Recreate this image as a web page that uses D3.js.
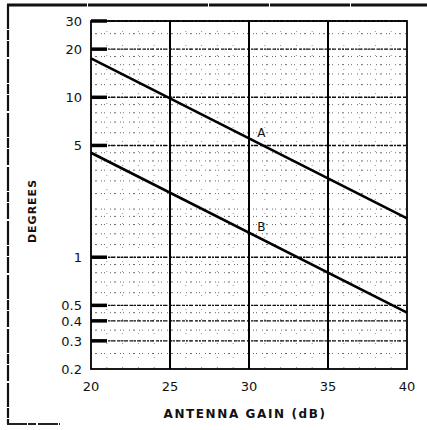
<!DOCTYPE html>
<html>
<head>
<meta charset="utf-8">
<script src="https://cdn.jsdelivr.net/npm/d3@7"></script>
<style>
  html, body { margin: 0; padding: 0; background: #fff; }
  svg { display: block; }
  text { font-family: "DejaVu Sans", "Liberation Sans", sans-serif; fill: #111; }
</style>
</head>
<body>
<svg id="chart" width="427" height="430"></svg>
<script>
// Antenna gain (dB) on the x axis
const gainDomain = [20, 40];
const gainTicks = [20, 25, 30, 35, 40];
const gainGridLines = [25, 30, 35];

// Beamwidth in degrees on a log y axis
const degreeDomain = [0.2, 30];
const degreeTicks = [0.2, 0.3, 0.4, 0.5, 1, 5, 10, 20, 30];
const degreeTickLabels = ["0.2", "0.3", "0.4", "0.5", "1", "5", "10", "20", "30"];
const degreeMajorLines = [0.3, 0.4, 0.5, 1, 5, 10, 20, 30];

// Two curves, straight on log paper
const curveGain = [20, 40];
const curveA = [17.5, 1.75];
const curveB = [4.5, 0.45];
const curveNames = ["A", "B"];
const curveLabelGain = [30.4, 30.4];

const svg = d3.select("#chart");
const margin = { left: 91, right: 20, top: 21, bottom: 61 };
const W = 427, H = 430;

const x = d3.scaleLinear().domain(gainDomain).range([margin.left, W - margin.right]);
const y = d3.scaleLog().domain(degreeDomain).range([H - margin.bottom, margin.top]);

// page frame
svg.append("line").attr("x1", 8).attr("x2", 8).attr("y1", 5).attr("y2", 424)
  .attr("stroke", "#111").attr("stroke-width", 2.2).attr("stroke-dasharray", "24,1,10,1,16,2");
svg.append("line").attr("x1", 7).attr("x2", 427).attr("y1", 5).attr("y2", 5)
  .attr("stroke", "#111").attr("stroke-width", 3).attr("stroke-dasharray", "80,1,120,1,60,1");
svg.append("line").attr("x1", 7).attr("x2", 60).attr("y1", 424).attr("y2", 424)
  .attr("stroke", "#222").attr("stroke-width", 2).attr("stroke-dasharray", "20,1,8,2");

const plot = svg.append("g");

// minor horizontal rulings
const minorMult = [1, 1.2, 1.4, 1.6, 1.8, 2, 2.5, 3, 3.5, 4, 4.5, 5, 6, 7, 8, 9];
const minorVals = [];
[0.1, 1, 10].forEach(d => minorMult.forEach(m => {
  const v = +(m * d).toFixed(3);
  if (v > degreeDomain[0] && v < degreeDomain[1]) minorVals.push(v);
}));
plot.selectAll("line.hminor").data(minorVals).join("line")
  .attr("class", "hminor")
  .attr("x1", x(gainDomain[0])).attr("x2", x(gainDomain[1]))
  .attr("y1", d => y(d)).attr("y2", d => y(d))
  .attr("stroke", "#444").attr("stroke-width", 0.8)
  .attr("stroke-dasharray", "1,3,2,4,1,2,1,5");

// minor vertical rulings every 1 dB
const minorGain = d3.range(21, 40).filter(g => g % 5 !== 0);
plot.selectAll("line.vminor").data(minorGain).join("line")
  .attr("class", "vminor")
  .attr("x1", d => x(d)).attr("x2", d => x(d))
  .attr("y1", y(degreeDomain[1])).attr("y2", y(degreeDomain[0]))
  .attr("stroke", "#666").attr("stroke-width", 0.7)
  .attr("stroke-dasharray", "1,9,1,13");

// major horizontal rulings
plot.selectAll("line.hmajor").data(degreeMajorLines).join("line")
  .attr("class", "hmajor")
  .attr("x1", x(gainDomain[0])).attr("x2", x(gainDomain[1]))
  .attr("y1", d => y(d)).attr("y2", d => y(d))
  .attr("stroke", "#111").attr("stroke-width", 1.4)
  .attr("stroke-dasharray", "3,1,2,1,4,2");

// bold stubs at the left end of the major rulings
plot.selectAll("line.stub").data(degreeMajorLines).join("line")
  .attr("class", "stub")
  .attr("x1", x(gainDomain[0])).attr("x2", x(gainDomain[0]) + 16)
  .attr("y1", d => y(d)).attr("y2", d => y(d))
  .attr("stroke", "#000").attr("stroke-width", 3.5);

// major vertical rulings
plot.selectAll("line.vmajor").data(gainGridLines).join("line")
  .attr("class", "vmajor")
  .attr("x1", d => x(d)).attr("x2", d => x(d))
  .attr("y1", y(degreeDomain[1])).attr("y2", y(degreeDomain[0]))
  .attr("stroke", "#000").attr("stroke-width", 2);

// plot frame
plot.append("rect")
  .attr("x", x(gainDomain[0])).attr("y", y(degreeDomain[1]))
  .attr("width", x(gainDomain[1]) - x(gainDomain[0]))
  .attr("height", y(degreeDomain[0]) - y(degreeDomain[1]))
  .attr("fill", "none").attr("stroke", "#000").attr("stroke-width", 1.8);

// curves
const line = d3.line().x(d => x(d[0])).y(d => y(d[1]));
[curveA, curveB].forEach(vals => {
  plot.append("path")
    .datum(curveGain.map((g, i) => [g, vals[i]]))
    .attr("d", line)
    .attr("fill", "none").attr("stroke", "#000").attr("stroke-width", 2.6);
});

// curve letters, set just above each line
[curveA, curveB].forEach((vals, i) => {
  const g = curveLabelGain[i];
  const logV = d3.scaleLinear().domain(curveGain).range(vals.map(Math.log10));
  const v = Math.pow(10, logV(g));
  plot.append("text")
    .attr("x", x(g) + 2).attr("y", y(v) - 5)
    .attr("font-size", 12)
    .text(curveNames[i]);
});

// y axis labels
svg.append("g").selectAll("text").data(degreeTicks).join("text")
  .attr("x", 82).attr("y", d => y(d)).attr("dy", "0.36em")
  .attr("text-anchor", "end").attr("font-size", 13)
  .text((d, i) => degreeTickLabels[i]);

// x axis labels
svg.append("g").selectAll("text").data(gainTicks).join("text")
  .attr("x", d => x(d)).attr("y", 391)
  .attr("text-anchor", "middle").attr("font-size", 13)
  .text(d => d);

// axis titles
svg.append("text")
  .attr("x", 245).attr("y", 418)
  .attr("text-anchor", "middle").attr("font-size", 12).attr("font-weight", 600)
  .attr("letter-spacing", 1.6)
  .text("ANTENNA  GAIN (dB)");

svg.append("text")
  .attr("transform", "translate(36,211) rotate(-90)")
  .attr("text-anchor", "middle").attr("font-size", 11).attr("font-weight", "bold")
  .attr("letter-spacing", 1)
  .text("DEGREES");
</script>
</body>
</html>
